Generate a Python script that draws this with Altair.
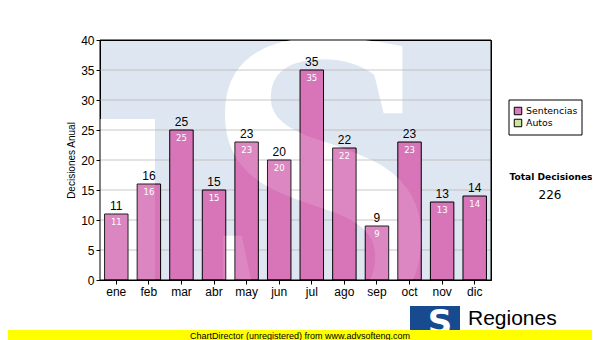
import altair as alt
import pandas as pd

months = ["ene", "feb", "mar", "abr", "may", "jun", "jul", "ago", "sep", "oct", "nov", "dic"]
values = [11, 16, 25, 15, 23, 20, 35, 22, 9, 23, 13, 14]
y_ticks = [0, 5, 10, 15, 20, 25, 30, 35, 40]
legend_labels = ["Sentencias", "Autos"]
legend_colors = ["#DA7BBE", "#CCE699"]
total_label = "Total Decisiones"
total_value = str(sum(values))
footer_text = "ChartDirector (unregistered) from www.advsofteng.com"
logo_text = "Regiones"
y_title = "Decisiones Anual"

df = pd.DataFrame({"mes": months, "valor": values})

FONT = "Liberation Sans"
yscale = alt.Scale(domain=[0, 40])
xscale = alt.Scale(paddingInner=0.28, paddingOuter=0.14)

xaxis = alt.Axis(labelAngle=0, labelFontSize=12, labelFont=FONT, labelColor="#000000",
                 tickColor="#000000", tickSize=4, domainColor="#000000", labelPadding=2)
yaxis = alt.Axis(values=y_ticks, labelFontSize=12, labelFont=FONT, labelOverlap=False,
                 labelColor="#000000", tickColor="#000000", tickSize=4,
                 domainColor="#000000", grid=False,
                 titleFont=FONT, titleFontSize=10, titleFontWeight="normal",
                 titleColor="#000000", titlePadding=4, labelPadding=2)

def X():
    return alt.X("mes:N", sort=months, title=None, scale=xscale, axis=xaxis)

def Y(field="valor:Q"):
    return alt.Y(field, title=y_title, scale=yscale, axis=yaxis)

base = alt.Chart(df)
one = pd.DataFrame({"a": [0]})

# watermark "TS" logo
wm_t = alt.Chart(one).mark_rect(fill="#FFFFFF").encode(
    x=alt.value(0), x2=alt.value(55), y=alt.value(79), y2=alt.value(240))
wm = alt.Chart(pd.DataFrame({"t": ["S"]})).mark_text(
    font="Liberation Sans Narrow", fontWeight="bold", fontSize=430, color="#FFFFFF",
    align="center", baseline="alphabetic", clip=True
).encode(text="t:N", x=alt.value(220), y=alt.value(282))

grid = alt.Chart(pd.DataFrame({"g": y_ticks[1:-1]})).mark_rule(color="#BFBFBF", strokeWidth=1).encode(
    y=Y("g:Q"))

bars = base.mark_bar(color="#D775B8", stroke="#000000", strokeWidth=1).encode(x=X(), y=Y())

# light overlay of the watermark over the bars
wm_t2 = alt.Chart(one).mark_rect(fill="#FFFFFF", opacity=0.13).encode(
    x=alt.value(0), x2=alt.value(55), y=alt.value(79), y2=alt.value(240))
wm2 = alt.Chart(pd.DataFrame({"t": ["S"]})).mark_text(
    font="Liberation Sans Narrow", fontWeight="bold", fontSize=430, color="#FFFFFF", opacity=0.13,
    align="center", baseline="alphabetic", clip=True
).encode(text="t:N", x=alt.value(220), y=alt.value(282))

frame = alt.Chart(one).mark_rect(fillOpacity=0, stroke="#000000", strokeWidth=1).encode(
    x=alt.value(0), x2=alt.value(391), y=alt.value(0), y2=alt.value(240))

top_labels = base.mark_text(font=FONT, fontSize=12, color="#000000", baseline="bottom", dy=-1).encode(
    x=X(), y=Y(), text="valor:Q")
in_labels = base.mark_text(font="DejaVu Sans", fontSize=8.5, color="#FFFFFF", baseline="top", dy=4).encode(
    x=X(), y=Y(), text="valor:Q")

# legend box
leg_box = alt.Chart(one).mark_rect(fill="#FFFFFF", stroke="#000000", strokeWidth=1).encode(
    x=alt.value(409), x2=alt.value(482), y=alt.value(60), y2=alt.value(95))
leg_df = pd.DataFrame({"lab": legend_labels, "col": legend_colors, "yy": [71, 83]})
leg_sq = alt.Chart(leg_df).mark_square(size=56, stroke="#000000", strokeWidth=1, opacity=1).encode(
    x=alt.value(418), y=alt.Y("yy:Q", scale=None), fill=alt.Fill("col:N", scale=None))
leg_txt = alt.Chart(leg_df).mark_text(font="DejaVu Sans", fontSize=9.4, color="#000000",
                                      align="left", baseline="middle").encode(
    x=alt.value(426), y=alt.Y("yy:Q", scale=None), text="lab:N")

tot = alt.Chart(pd.DataFrame({"t": [total_label]})).mark_text(
    font="DejaVu Sans", fontSize=9.1, fontWeight="bold", color="#000000", align="center", baseline="middle"
).encode(x=alt.value(451), y=alt.value(137), text="t:N")
tot_v = alt.Chart(pd.DataFrame({"t": [total_value]})).mark_text(
    font="DejaVu Sans", fontSize=12, color="#000000", align="center", baseline="middle"
).encode(x=alt.value(450), y=alt.value(155), text="t:N")

# logo
logo_rect = alt.Chart(one).mark_rect(fill="#174A8F").encode(
    x=alt.value(310), x2=alt.value(360), y=alt.value(266), y2=alt.value(295))
logo_s = alt.Chart(pd.DataFrame({"t": ["S"]})).mark_text(
    font="DejaVu Sans", fontWeight="bold", fontSize=34, color="#FFFFFF", align="center", baseline="middle"
).encode(x=alt.value(340), y=alt.value(284), text="t:N")
logo_t = alt.Chart(pd.DataFrame({"t": [logo_text]})).mark_text(
    font=FONT, fontSize=21, color="#000000", align="left", baseline="alphabetic"
).encode(x=alt.value(368), y=alt.value(285), text="t:N")

# footer
foot_rect = alt.Chart(one).mark_rect(fill="#FFFF00").encode(
    x=alt.value(-92), x2=alt.value(500), y=alt.value(290), y2=alt.value(300))
foot_txt = alt.Chart(pd.DataFrame({"t": [footer_text]})).mark_text(
    font=FONT, fontSize=9, color="#000000", align="center", baseline="middle"
).encode(x=alt.value(200), y=alt.value(295.5), text="t:N")

chart = alt.layer(wm_t, wm, grid, bars, wm_t2, wm2, frame, top_labels, in_labels,
                  leg_box, leg_sq, leg_txt, tot, tot_v,
                  logo_rect, logo_s, logo_t, foot_rect, foot_txt).properties(
    width=391, height=240,
    autosize=alt.AutoSizeParams(type="none"),
    padding={"left": 92, "top": 32, "right": 101, "bottom": 60},
    background="#FFFFFF",
).configure_view(fill="#DEE7F1", stroke="#000000", strokeWidth=1)

chart.save("out.html", embed_options={"renderer": "svg", "actions": False})
